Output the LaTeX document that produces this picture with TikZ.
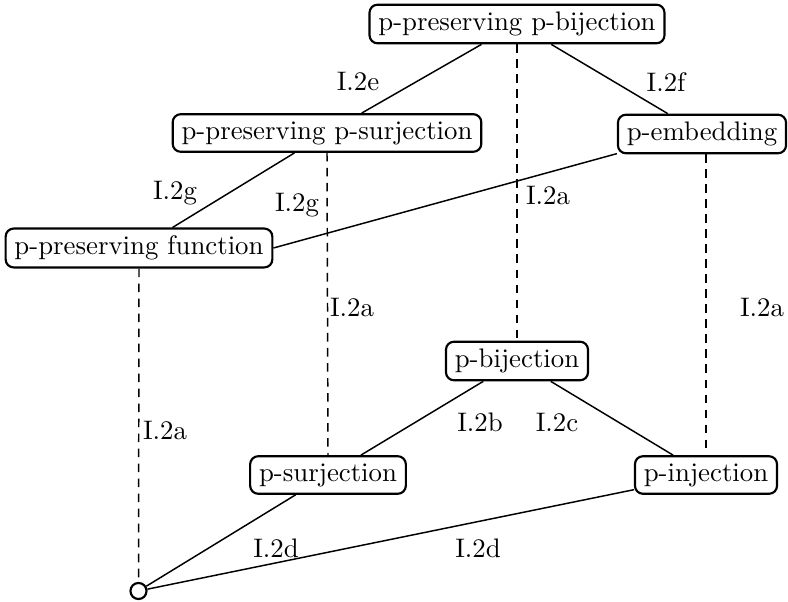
\documentclass[tikz,border=0pt]{standalone}
\begin{document}
\begin{tikzpicture}[x=0.3731pt,y=-0.3731pt,
  box/.style={draw,line width=0.8pt,rounded corners=3pt,inner xsep=3.3pt,inner ysep=2.7pt},
  dot/.style={draw,circle,line width=0.8pt,inner sep=0pt,minimum size=6pt},
  edge/.style={line width=0.55pt},
  dedge/.style={line width=0.55pt,dash pattern=on 3.2pt off 2.4pt},
  lbl/.style={inner sep=0pt}]
\useasboundingbox (0,0) rectangle (788,602);
\node[box] (ppb) at (517,24) {p-preserving p-bijection};
\node[box] (pps) at (327,133) {p-preserving p-surjection};
\node[box] (emb) at (702,134) {p-embedding};
\node[box] (ppf) at (139,248) {p-preserving function};
\node[box] (bij) at (517,361) {p-bijection};
\node[box] (sur) at (328,475) {p-surjection};
\node[box] (inj) at (706,475) {p-injection};
\node[dot] (o) at (138.5,591) {};
\draw[edge] (ppb) -- (pps);
\draw[edge] (ppb) -- (emb);
\draw[dedge] (ppb.south) -- (bij.north);
\draw[edge] (pps) -- (ppf);
\draw[dedge] (pps.south) -- (sur.north);
\draw[edge] (emb.193) -- (ppf.east);
\draw[dedge] (emb.south -| inj.north) -- (inj.north);
\draw[dedge] (ppf.south) -- (o);
\draw[edge] (bij) -- (sur);
\draw[edge] (bij) -- (inj);
\draw[edge] (sur) -- (o);
\draw[edge] (inj) -- (o);
\node[lbl] (l1) at (358,82) {I.2e};
\node[lbl] (l2) at (666,82) {I.2f};
\node[lbl] (l3) at (175,193) {I.2g};
\node[lbl] (l4) at (297,205) {I.2g};
\node[lbl] (l5) at (548,196) {I.2a};
\node[lbl] (l6) at (352,308) {I.2a};
\node[lbl] (l7) at (762,308) {I.2a};
\node[lbl] (l8) at (165,430) {I.2a};
\node[lbl] (l9) at (480,422) {I.2b};
\node[lbl] (l10) at (557,422) {I.2c};
\node[lbl] (l11) at (276,548) {I.2d};
\node[lbl] (l12) at (478,548) {I.2d};
\end{tikzpicture}
\end{document}
